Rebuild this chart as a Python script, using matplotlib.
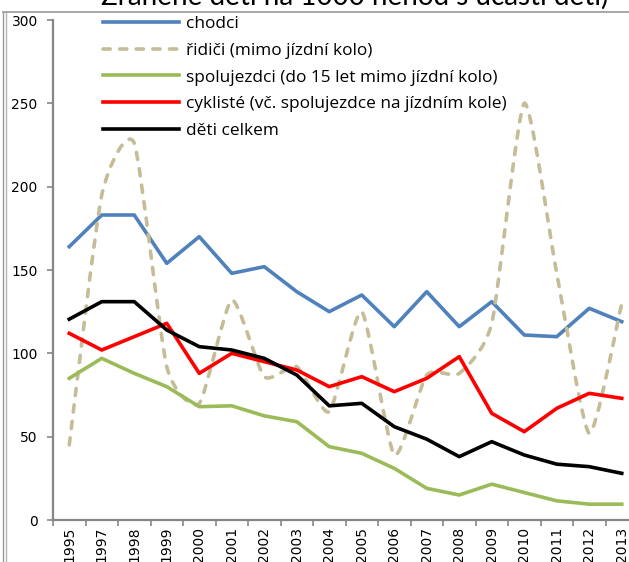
import numpy as np
import matplotlib
matplotlib.use('Agg')
import matplotlib.pyplot as plt
from matplotlib.path import Path
from matplotlib.patches import PathPatch
from matplotlib.lines import Line2D

# Injured children per 1000 accidents involving children, by road-user group
years = ['1995', '1997', '1998', '1999', '2000', '2001', '2002', '2003', '2004',
         '2005', '2006', '2007', '2008', '2009', '2010', '2011', '2012', '2013']
chodci = [164, 183, 183, 154, 170, 148, 152, 137, 125, 135, 116, 137, 116, 131,
          111, 110, 127, 119]
ridici = [45, 195, 226, 92, 70, 132, 86, 92, 65, 125, 39, 87, 88, 118,
          250, 148, 52, 130]
spolujezdci = [85, 97, 88, 80, 68, 68.5, 62.5, 59, 44, 40, 31, 19, 15, 21.5,
               16.5, 11.5, 9.5, 9.5]
cykliste = [112, 102, 110, 118, 88, 100, 95, 90, 80, 86, 77, 85, 98, 64,
            53, 67, 76, 73]
deti = [120.5, 131, 131, 114, 104, 102, 97, 87, 68.5, 70, 56, 48.5, 38, 47,
        39, 33.5, 32, 28]

series_labels = ['chodci', 'řidiči (mimo jízdní kolo)',
                 'spolujezdci (do 15 let mimo jízdní kolo)',
                 'cyklisté (vč. spolujezdce na jízdním kole)',
                 'děti celkem']
title = 'Zraněné děti na 1000 nehod s účastí dětí)'

C_BLUE = '#4F81BD'
C_TAN = '#C4BD97'
C_GREEN = '#9BBB59'
C_RED = '#FF0000'
C_BLACK = '#000000'
AXIS_GRAY = '#868686'

W, H = 629, 562
fig = plt.figure(figsize=(W / 100, H / 100), dpi=100)
fig.patch.set_facecolor('white')

# plot area (axis runs a bit past the right edge)
ax = fig.add_axes([53 / W, (H - 520) / H, 585 / W, 500 / H])
x = np.arange(len(years))
ax.set_xlim(-0.5, len(years) - 0.5)
ax.set_ylim(0, 300)


def smooth_path(xs, ys, k=10.0):
    # bezier curve through the points, gently rounded corners
    p = np.column_stack([xs, ys]).astype(float)
    n = len(p)
    verts = [p[0]]
    codes = [Path.MOVETO]
    for i in range(n - 1):
        prev_p = p[i - 1] if i > 0 else p[i]
        next_p = p[i + 2] if i + 2 < n else p[i + 1]
        c1 = p[i] + (p[i + 1] - prev_p) / k
        c2 = p[i + 1] - (next_p - p[i]) / k
        verts += [c1, c2, p[i + 1]]
        codes += [Path.CURVE4] * 3
    return Path(verts, codes)


LW = 2.6
dash = (0, (2.0, 2.6))

ax.plot(x, chodci, color=C_BLUE, lw=LW, solid_joinstyle='round', zorder=3)
dashed = PathPatch(smooth_path(x, ridici), fill=False, edgecolor=C_TAN, lw=LW,
                   linestyle=dash, capstyle='round', zorder=3)
ax.add_patch(dashed)
ax.plot(x, spolujezdci, color=C_GREEN, lw=LW, solid_joinstyle='round', zorder=3)
ax.plot(x, cykliste, color=C_RED, lw=LW, solid_joinstyle='round', zorder=3)
ax.plot(x, deti, color=C_BLACK, lw=LW, solid_joinstyle='round', zorder=3)

# axes styling
for side in ['top', 'right']:
    ax.spines[side].set_visible(False)
for side in ['left', 'bottom']:
    ax.spines[side].set_color(AXIS_GRAY)
    ax.spines[side].set_linewidth(1.6)

ax.set_yticks(np.arange(0, 301, 50))
ax.tick_params(axis='y', direction='out', length=4, width=1.2, color=AXIS_GRAY,
               pad=7, labelsize=10, labelcolor='black')

# category labels in the middle, tick marks between categories
ax.set_xticks(x)
ax.set_xticklabels(years, rotation=90, fontsize=10)
ax.tick_params(axis='x', which='major', length=0, pad=5)
ax.set_xticks(np.arange(-0.5, len(years), 1.0), minor=True)
ax.tick_params(axis='x', which='minor', direction='out', length=4, width=1.2,
               color=AXIS_GRAY)

# legend
handles = [
    Line2D([0], [0], color=C_BLUE, lw=LW),
    Line2D([0], [0], color=C_TAN, lw=LW, linestyle=dash, dash_capstyle='round'),
    Line2D([0], [0], color=C_GREEN, lw=LW),
    Line2D([0], [0], color=C_RED, lw=LW),
    Line2D([0], [0], color=C_BLACK, lw=LW),
]
fsz = 12.4
leg = fig.legend(handles, series_labels, loc='upper left',
                 bbox_to_anchor=(103 / W, 1 - 16 / H), frameon=False,
                 prop={'family': 'Open Sans', 'size': fsz},
                 handlelength=55.0 / fsz, handletextpad=5.0 / fsz,
                 labelspacing=0.62, borderpad=0, borderaxespad=0)

# title, mostly above the visible area
fig.text(355 / W, 1 - 5 / H, title, ha='center', va='baseline',
         fontsize=20, family='Lato')

# chart border
frame_color = '#9a9a9a'
fig.add_artist(Line2D([2.5 / W, 2.5 / W], [0, 1 - 11.5 / H], color=frame_color,
                      lw=1.0, transform=fig.transFigure))
fig.add_artist(Line2D([6.0 / W, 6.0 / W], [0, 1 - 11.5 / H], color='#b5b5b5',
                      lw=1.0, transform=fig.transFigure))
fig.add_artist(Line2D([2.5 / W, 1], [1 - 11.5 / H, 1 - 11.5 / H],
                      color=frame_color, lw=1.2, transform=fig.transFigure))

fig.savefig('out.png', dpi=100)
